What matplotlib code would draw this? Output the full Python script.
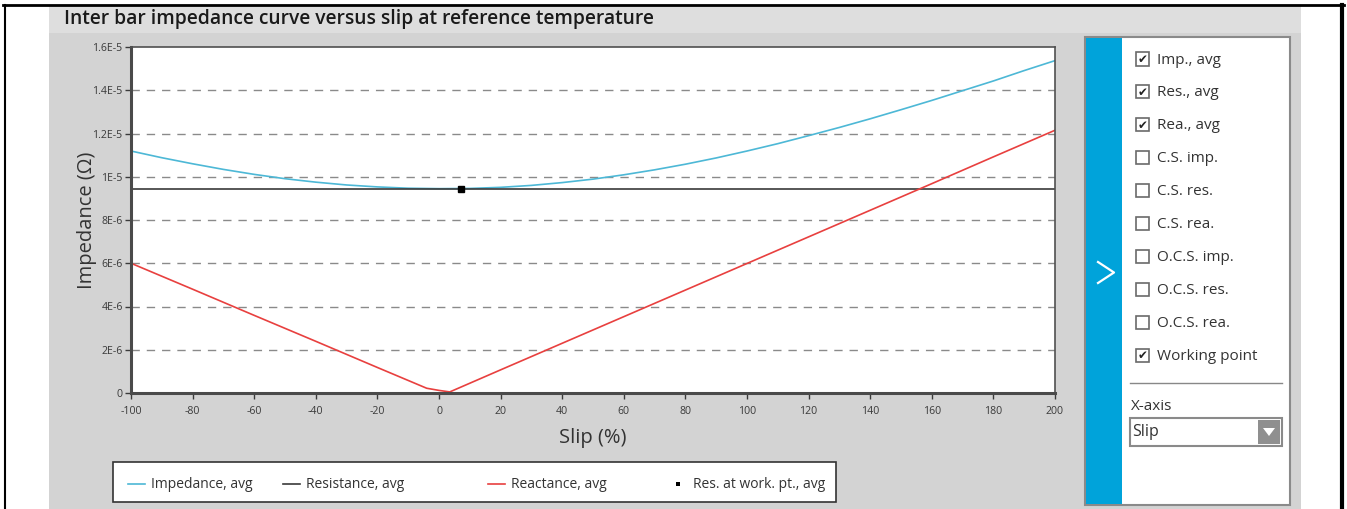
import numpy as np
import matplotlib.pyplot as plt
from matplotlib.patches import Rectangle, Polygon
from matplotlib.lines import Line2D

# data
slip_imp = list(range(-100, 201, 10))
impedance = [11.19e-6, 10.88e-6, 10.60e-6, 10.34e-6, 10.11e-6, 9.91e-6, 9.75e-6, 9.62e-6,
             9.53e-6, 9.47e-6, 9.45e-6, 9.46e-6, 9.51e-6, 9.60e-6, 9.73e-6, 9.89e-6,
             10.09e-6, 10.32e-6, 10.58e-6, 10.87e-6, 11.19e-6, 11.53e-6, 11.90e-6, 12.28e-6,
             12.68e-6, 13.10e-6, 13.53e-6, 13.98e-6, 14.43e-6, 14.91e-6, 15.37e-6]
slip = [-100, -80, -60, -40, -20, -4, 0, 3.5, 20, 40, 60, 80, 100, 120, 140, 160, 180, 200]
reactance = [6.0e-6, 4.80e-6, 3.59e-6, 2.39e-6, 1.18e-6, 0.22e-6, 0.12e-6, 0.05e-6,
             1.07e-6, 2.30e-6, 3.53e-6, 4.76e-6, 5.99e-6, 7.22e-6, 8.45e-6, 9.68e-6, 10.92e-6, 12.15e-6]
resistance = [9.45e-6] * len(slip)
work_slip = [7]
work_res = [9.45e-6]

yticks = [0, 2e-6, 4e-6, 6e-6, 8e-6, 1e-5, 1.2e-5, 1.4e-5, 1.6e-5]
ytick_labels = ['0', '2E-6', '4E-6', '6E-6', '8E-6', '1E-5', '1.2E-5', '1.4E-5', '1.6E-5']
xticks = list(range(-100, 201, 20))

legend_names = ['Impedance, avg', 'Resistance, avg', 'Reactance, avg', 'Res. at work. pt., avg']
options = ['Imp., avg', 'Res., avg', 'Rea., avg', 'C.S. imp.', 'C.S. res.', 'C.S. rea.',
           'O.C.S. imp.', 'O.C.S. res.', 'O.C.S. rea.', 'Working point']
checked = [True, True, True, False, False, False, False, False, False, True]

C_IMP = '#4db8d6'
C_RES = '#3a3a3a'
C_REA = '#e8403f'
FONT = 'Open Sans'

W, H = 1347, 509
fig = plt.figure(figsize=(W / 100, H / 100), dpi=100, facecolor='white')
plt.rcParams['font.family'] = [FONT, 'DejaVu Sans']


def box(x0, y0, x1, y1):
    # pixel box (top-left origin) -> figure fraction
    return x0 / W, 1 - y1 / H, (x1 - x0) / W, (y1 - y0) / H


def rect(x0, y0, x1, y1, z=1, **kw):
    l, b, w, h = box(x0, y0, x1, y1)
    fig.patches.append(Rectangle((l, b), w, h, transform=fig.transFigure, zorder=z, **kw))


def pline(xs, ys, **kw):
    fig.lines.append(Line2D([x / W for x in xs], [1 - y / H for y in ys], transform=fig.transFigure, **kw))


def txt(x, y, s, **kw):
    fig.text(x / W, 1 - y / H, s, **kw)


# background panels
rect(49, 5, 1301, 509, z=-2, facecolor='#d3d3d3', edgecolor='none')
rect(49, 5, 1301, 33, z=-2, facecolor='#dedede', edgecolor='none')
pline([3, 1344], [5, 5], color='black', lw=2)
pline([4.5, 4.5], [5, 509], color='black', lw=1.5)
pline([1342, 1342], [5, 509], color='black', lw=3)
txt(64, 19, 'Inter bar impedance curve versus slip at reference temperature',
    fontsize=13.9, color='#1a1a1a', va='center', fontweight='semibold')

# main chart
ax = fig.add_axes(box(131, 47, 1055, 393))
ax.set_zorder(3)
ax.set_facecolor('white')
ax.plot(slip_imp, impedance, color=C_IMP, lw=1.2, label=legend_names[0])
ax.plot(slip, resistance, color=C_RES, lw=1.2, label=legend_names[1])
ax.plot(slip, reactance, color=C_REA, lw=1.2, label=legend_names[2])
ax.plot(work_slip, work_res, ls='none', marker='s', ms=4, color='black', label=legend_names[3])
ax.set_xlim(-100, 200)
ax.set_ylim(0, 1.6e-5)
ax.set_xticks(xticks)
ax.set_xticklabels([str(v) for v in xticks])
ax.set_yticks(yticks)
ax.set_yticklabels(ytick_labels)
for v in yticks[1:-1]:
    ax.axhline(v, color='#8a8a8a', lw=1, ls=(0, (6, 5)), zorder=0)
ax.tick_params(labelsize=7.6, colors='#3a3a3a', length=4, width=1)
ax.tick_params(axis='x', pad=5)
ax.tick_params(axis='y', pad=2)
for side in ['left', 'bottom']:
    ax.spines[side].set_linewidth(2.2)
    ax.spines[side].set_color('#4a4a4a')
for side in ['top', 'right']:
    ax.spines[side].set_linewidth(1.2)
    ax.spines[side].set_color('#505050')
ax.set_xlabel('Slip (%)', fontsize=14.5, color='#333333')
ax.set_ylabel('Impedance (\u03a9)', fontsize=14.5, color='#333333')
ax.xaxis.set_label_coords((593 - 131) / 924, (393 - 428) / 346)
ax.yaxis.set_label_coords((97 - 131) / 924, 0.5)

# legend box
rect(113, 462, 836, 502, facecolor='white', edgecolor='#333333', lw=1.2)
leg_x = [128, 283, 488, 678]
leg_col = [C_IMP, C_RES, C_REA]
for i, name in enumerate(legend_names):
    if i < 3:
        pline([leg_x[i], leg_x[i] + 17], [484, 484], color=leg_col[i], lw=1.2)
        txt(leg_x[i] + 23, 484, name, fontsize=10, color='#333333', va='center')
    else:
        rect(leg_x[i] - 2, 482, leg_x[i] + 2, 486, facecolor='black', edgecolor='none')
        txt(leg_x[i] + 15, 484, name, fontsize=10, color='#333333', va='center')

# side panel
rect(1085, 37, 1290, 505, facecolor='white', edgecolor='#8a8a8a', lw=1.5)
rect(1086, 38, 1122, 504, facecolor='#00a3da', edgecolor='none')
pline([1098, 1114, 1098], [262, 272.5, 283], color='white', lw=1.6)
for i, (opt, on) in enumerate(zip(options, checked)):
    y = 59 + i * 32.9
    rect(1136, y - 6.5, 1149, y + 6.5, facecolor='white', edgecolor='#6a6a6a', lw=1.2)
    if on:
        txt(1142.5, y + 0.5, '\u2714', fontsize=8.5, color='#222222', ha='center', va='center',
            family='DejaVu Sans')
    txt(1157, y + 1, opt, fontsize=11, color='#333333', va='center')
pline([1130, 1282], [383, 383], color='#888888', lw=1)
txt(1131, 407, 'X-axis', fontsize=11, color='#333333', va='center')
rect(1130, 418, 1282, 446, facecolor='white', edgecolor='#8a8a8a', lw=1.5)
txt(1132, 432, 'Slip', fontsize=11.5, color='#333333', va='center')
rect(1258, 420, 1280, 444, facecolor='#8f8f8f', edgecolor='none')
tri = np.array([[1263, 428], [1275, 428], [1269, 436]], dtype=float)
fig.patches.append(Polygon([(x / W, 1 - y / H) for x, y in tri], closed=True,
                           transform=fig.transFigure, facecolor='white', edgecolor='none'))

fig.savefig('out.png', dpi=100, facecolor='white')
